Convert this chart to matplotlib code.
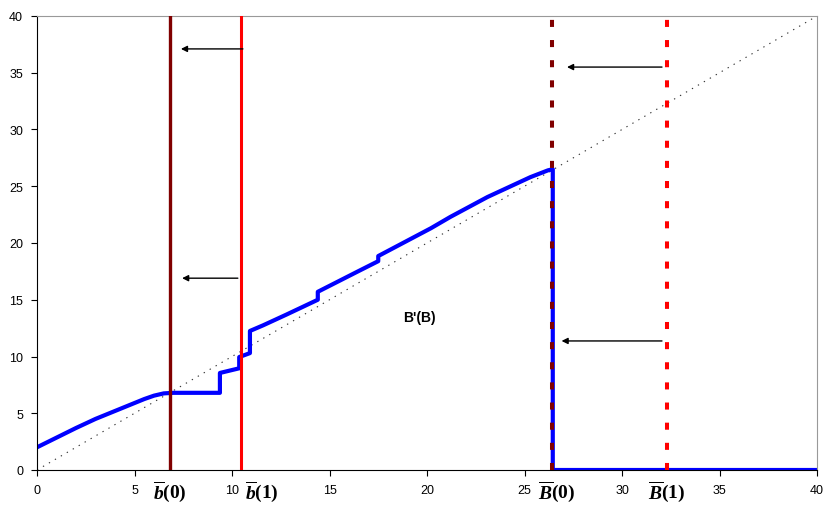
import matplotlib
matplotlib.use('Agg')
import matplotlib.pyplot as plt

plt.rcParams['font.family'] = ['Liberation Sans', 'DejaVu Sans']
plt.rcParams['mathtext.fontset'] = 'custom'
plt.rcParams['mathtext.it'] = 'Liberation Serif:italic:bold'
plt.rcParams['mathtext.rm'] = 'Liberation Serif:bold'
plt.rcParams['mathtext.bf'] = 'Liberation Serif:bold'

# B'(B) curve
curve_x = [0, 1, 2, 3, 4, 5, 5.5, 6, 6.5, 7, 9.38, 9.38, 10.37, 10.37, 10.92, 10.92,
           11.6, 12.8, 13.6, 14.4, 14.4, 16.46, 17.5, 17.5, 20.2, 21.2, 23.1, 25.3,
           26.2, 26.45, 26.45, 40]
curve_y = [2.0, 2.85, 3.7, 4.5, 5.2, 5.9, 6.25, 6.55, 6.75, 6.8, 6.8, 8.55, 8.96, 9.95,
           10.3, 12.25, 12.75, 13.7, 14.35, 15.0, 15.7, 17.5, 18.4, 18.85, 21.3, 22.3,
           24.05, 25.8, 26.4, 26.5, 0, 0]

# diagonal 45 degree line
diag_x = [0, 40]
diag_y = [0, 40]

# thresholds
b0 = 6.82
b1 = 10.46
B0 = 26.42
B1 = 32.3

# arrows (start x, end x, y)
arrow_start = [10.56, 10.3, 32.05, 32.05]
arrow_end = [7.38, 7.44, 27.18, 26.9]
arrow_y = [37.1, 16.9, 35.5, 11.37]

xticks = [0, 5, 10, 15, 20, 25, 30, 35, 40]
yticks = [0, 5, 10, 15, 20, 25, 30, 35, 40]

fig = plt.figure(figsize=(8.24, 5.06), dpi=100)
ax = fig.add_axes([37/824, 35/506, 780/824, 454/506])

ax.plot(diag_x, diag_y, color='#333333', lw=0.8, linestyle=(0, (1.2, 5)), zorder=1)
ax.plot(curve_x, curve_y, color='#0000ff', lw=3, zorder=2)

ax.axvline(b0, color='#800000', lw=2.4, zorder=3)
ax.axvline(b1, color='#ff0000', lw=2.2, zorder=3)
ax.axvline(B0, color='#800000', lw=2.9, linestyle=(0, (1.75, 3.25)), zorder=3)
ax.axvline(B1, color='#ff0000', lw=2.9, linestyle=(0, (1.75, 3.25)), zorder=3)

for xs, xe, yy in zip(arrow_start, arrow_end, arrow_y):
    ax.annotate('', xy=(xe, yy), xytext=(xs, yy),
                arrowprops=dict(arrowstyle='-|>', color='black', lw=1,
                                mutation_scale=9, shrinkA=0, shrinkB=0))

ax.text(19.6, 13.5, "B'(B)", fontsize=10, fontweight='bold', ha='center', va='center')

ax.set_xlim(0, 40)
ax.set_ylim(0, 40)
ax.set_xticks(xticks)
ax.set_yticks(yticks)
ax.tick_params(labelsize=9, length=4, width=0.8, direction='out', pad=6)

ax.spines['top'].set_color('#999999')
ax.spines['right'].set_color('#999999')
ax.spines['left'].set_color('black')
ax.spines['bottom'].set_color('black')

# threshold labels under the axis
tr = ax.get_xaxis_transform()
labels = [r'$\overline{b}(0)$', r'$\overline{b}(1)$', r'$\overline{B}(0)$', r'$\overline{B}(1)$']
label_x = [6.82, 11.55, 26.65, 32.3]
for lx, lab in zip(label_x, labels):
    ax.text(lx, -0.046, lab, transform=tr, ha='center', va='center', fontsize=14)

fig.savefig('out.png', dpi=100)
